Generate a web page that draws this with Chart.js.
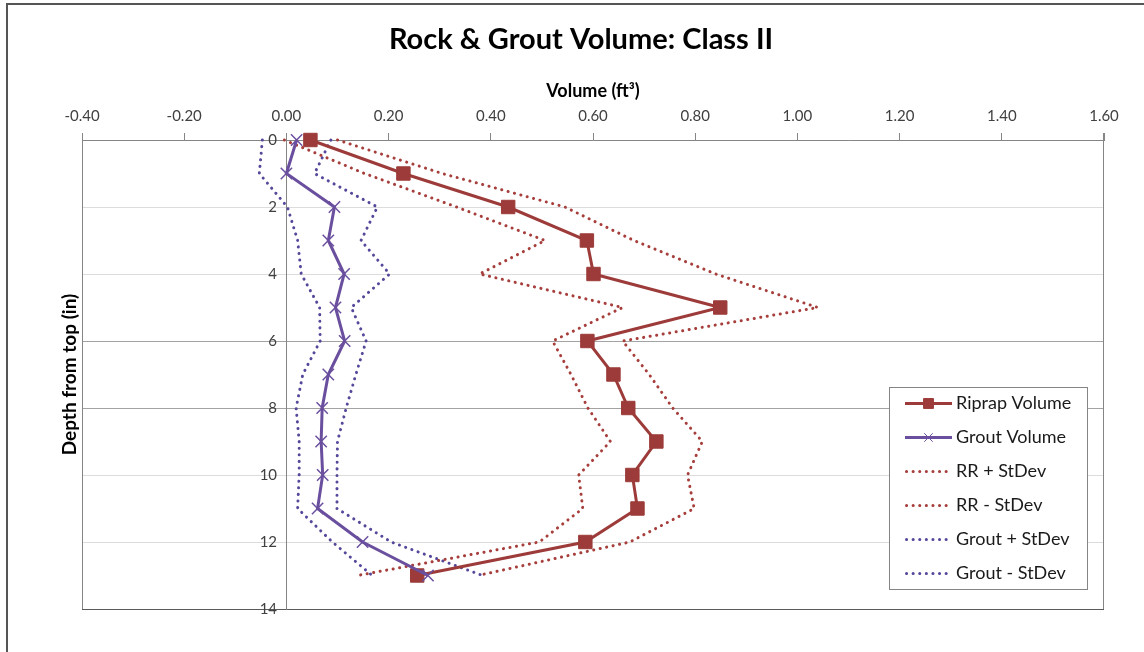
<!DOCTYPE html>
<html>
<head>
<meta charset="utf-8">
<script src="https://cdn.jsdelivr.net/npm/chart.js@4.4.1/dist/chart.umd.min.js"></script>
<style>
  html, body { margin: 0; padding: 0; background: #ffffff; }
  #wrap { width: 1144px; height: 652px; position: relative; }
</style>
</head>
<body>
<div id="wrap"><canvas id="chart" width="1144" height="652"></canvas></div>
<script>
// Depth below the top surface (in) for each measurement level
const depths = [0, 1, 2, 3, 4, 5, 6, 7, 8, 9, 10, 11, 12, 13];

// Mean volumes (ft³) per depth
const riprapVolume = [0.047, 0.229, 0.434, 0.588, 0.601, 0.849, 0.589, 0.640, 0.669, 0.724, 0.677, 0.687, 0.585, 0.256];
const groutVolume  = [0.020, 0.000, 0.094, 0.082, 0.113, 0.096, 0.114, 0.082, 0.070, 0.068, 0.071, 0.061, 0.149, 0.277];

// Mean ± one standard deviation
const rrPlusStd      = [0.100, 0.305, 0.545, 0.680, 0.840, 1.040, 0.658, 0.710, 0.756, 0.814, 0.785, 0.798, 0.672, 0.375];
const rrMinusStd     = [-0.004, 0.153, 0.333, 0.506, 0.378, 0.658, 0.521, 0.557, 0.590, 0.634, 0.572, 0.580, 0.495, 0.139];
const groutPlusStd   = [0.087, 0.055, 0.178, 0.146, 0.202, 0.127, 0.156, 0.136, 0.117, 0.100, 0.099, 0.099, 0.205, 0.384];
const groutMinusStd  = [-0.047, -0.053, 0.002, 0.022, 0.029, 0.065, 0.066, 0.032, 0.019, 0.025, 0.025, 0.022, 0.090, 0.168];

// Axis tick values
const volumeTicks = [-0.4, -0.2, 0, 0.2, 0.4, 0.6, 0.8, 1.0, 1.2, 1.4, 1.6];
const depthTicks  = [0, 2, 4, 6, 8, 10, 12, 14];

const FONT = 'Lato, "Liberation Sans", sans-serif';
const RIPRAP = '#9c3b39';
const GROUT = '#6a4f9e';
const RIPRAP_DOT = '#a63e3c';
const GROUT_DOT = '#56479a';
const FRAME = '#858585';

const toPoints = vals => vals.map((v, i) => ({ x: v, y: depths[i] }));

const dotted = (label, values, color, order) => ({
  label,
  data: toPoints(values),
  showLine: true,
  borderColor: color,
  backgroundColor: color,
  borderWidth: 3,
  borderDash: [0.1, 6.5],
  borderCapStyle: 'round',
  pointRadius: 0,
  pointHoverRadius: 0,
  clip: false,
  order
});

// Outer border of the figure and the grey frame round the plot area
const framePlugin = {
  id: 'frame',
  beforeDraw(chart) {
    const { ctx, width, height } = chart;
    ctx.save();
    ctx.fillStyle = '#ffffff';
    ctx.fillRect(0, 0, width, height);
    ctx.strokeStyle = '#555555';
    ctx.lineWidth = 2;
    ctx.strokeRect(7, 4, width + 40, height + 40);
    ctx.restore();
  },
  beforeDatasetsDraw(chart) {
    const { ctx, chartArea: a } = chart;
    ctx.save();
    ctx.strokeStyle = FRAME;
    ctx.lineWidth = 1;
    ctx.beginPath();
    ctx.moveTo(Math.round(a.left) + 0.5, a.top);
    ctx.lineTo(Math.round(a.left) + 0.5, a.bottom);
    ctx.moveTo(Math.round(a.right) - 0.5, a.top - 7);
    ctx.lineTo(Math.round(a.right) - 0.5, a.bottom);
    ctx.stroke();
    ctx.restore();
  }
};

// Boxed series key in the lower right of the plot
const keyPlugin = {
  id: 'seriesKey',
  afterDraw(chart) {
    const { ctx, chartArea: a } = chart;
    const datasets = chart.data.datasets;
    const boxW = 198, rowH = 34, boxH = 202;
    const right = a.right - 17, bottom = a.bottom - 20;
    const left = right - boxW, top = bottom - boxH;
    ctx.save();
    ctx.fillStyle = '#ffffff';
    ctx.fillRect(left, top, boxW, boxH);
    ctx.strokeStyle = FRAME;
    ctx.lineWidth = 1;
    ctx.strokeRect(Math.round(left) + 0.5, Math.round(top) + 0.5, boxW, boxH);
    datasets.forEach((ds, i) => {
      const y = Math.round(top + 16 + i * rowH) + 0.5;
      const x1 = left + 16, x2 = left + 63;
      ctx.save();
      ctx.strokeStyle = ds.borderColor;
      ctx.lineWidth = ds.borderWidth;
      ctx.lineCap = ds.borderCapStyle || 'butt';
      ctx.setLineDash(ds.borderDash || []);
      ctx.beginPath();
      ctx.moveTo(x1 + (ds.borderDash ? 1.5 : 0), y);
      ctx.lineTo(x2, y);
      ctx.stroke();
      ctx.restore();
      if (ds.pointRadius > 0) {
        ctx.save();
        ctx.fillStyle = ds.backgroundColor;
        ctx.strokeStyle = ds.borderColor;
        Chart.helpers.drawPoint(ctx, {
          pointStyle: ds.pointStyle,
          radius: ds.pointStyle === 'rect' ? 7 : 6,
          borderWidth: ds.pointStyle === 'rect' ? 1 : 1.2,
          rotation: 0
        }, (x1 + x2) / 2, y);
        ctx.restore();
      }
      ctx.fillStyle = '#1a1a1a';
      ctx.font = '18px ' + FONT;
      ctx.textBaseline = 'middle';
      ctx.textAlign = 'left';
      ctx.fillText(ds.label, left + 67, y);
    });
    ctx.restore();
  }
};

const noPad = s => { s.paddingLeft = 0; s.paddingRight = 0; s.paddingTop = 0; s.paddingBottom = 0; };

new Chart(document.getElementById('chart'), {
  type: 'scatter',
  data: {
    datasets: [
      {
        label: 'Riprap Volume',
        data: toPoints(riprapVolume),
        showLine: true,
        borderColor: RIPRAP,
        backgroundColor: RIPRAP,
        borderWidth: 3,
        pointStyle: 'rect',
        pointRadius: 9.5,
        pointBorderWidth: 1,
        clip: false,
        order: 1
      },
      {
        label: 'Grout Volume',
        data: toPoints(groutVolume),
        showLine: true,
        borderColor: GROUT,
        backgroundColor: GROUT,
        borderWidth: 3,
        pointStyle: 'crossRot',
        pointRadius: 8,
        pointBorderWidth: 1.5,
        clip: false,
        order: 0
      },
      dotted('RR + StDev', rrPlusStd, RIPRAP_DOT, 2),
      dotted('RR - StDev', rrMinusStd, RIPRAP_DOT, 3),
      dotted('Grout + StDev', groutPlusStd, GROUT_DOT, 4),
      dotted('Grout - StDev', groutMinusStd, GROUT_DOT, 5)
    ]
  },
  options: {
    responsive: false,
    animation: false,
    events: [],
    layout: { padding: { left: 58, right: 40, top: 8, bottom: 43 } },
    plugins: {
      legend: { display: false },
      tooltip: { enabled: false },
      title: {
        display: true,
        text: 'Rock & Grout Volume: Class II',
        color: '#000000',
        font: { family: FONT, size: 29, weight: 'bold' },
        padding: { top: 14.6, bottom: 7.6 }
      }
    },
    scales: {
      x: {
        type: 'linear',
        position: 'top',
        min: -0.4,
        max: 1.6,
        afterBuildTicks: s => { s.ticks = volumeTicks.map(v => ({ value: v })); },
        afterFit: s => { s.height = 75; noPad(s); },
        ticks: {
          color: '#404040',
          font: { family: FONT, size: 15 },
          padding: 8,
          maxRotation: 0,
          callback: v => Number(v).toFixed(2)
        },
        grid: { drawOnChartArea: false, drawTicks: true, tickLength: 7, color: FRAME, tickColor: FRAME },
        border: { color: FRAME, width: 1 },
        title: {
          display: true,
          text: 'Volume (ft³)',
          color: '#000000',
          font: { family: FONT, size: 18, weight: 'bold' },
          padding: { top: 15.2, bottom: 0 }
        }
      },
      y: {
        type: 'linear',
        position: { x: 0 },
        reverse: true,
        min: 0,
        max: 14,
        afterBuildTicks: s => { s.ticks = depthTicks.map(v => ({ value: v })); },
        afterFit: noPad,
        ticks: {
          color: '#404040',
          font: { family: FONT, size: 15 },
          callback: v => String(v) + '\u2002\u2009'
        },
        grid: {
          drawTicks: false,
          color: c => {
            const v = c.tick && c.tick.value;
            if (v === 14) return '#5a5a5a';
            if (v === 6 || v === 8) return '#a3a3a3';
            return '#dcdcdc';
          }
        },
        border: { color: FRAME, width: 1 }
      },
      depthTitle: {
        type: 'linear',
        position: 'left',
        axis: 'y',
        display: true,
        afterFit: s => { s.width = 24; noPad(s); },
        ticks: { display: false },
        grid: { display: false, drawTicks: false },
        border: { display: false },
        title: {
          display: true,
          text: 'Depth from top (in)',
          color: '#000000',
          font: { family: FONT, size: 19, weight: 'bold' },
          padding: 0
        }
      }
    }
  },
  plugins: [framePlugin, keyPlugin]
});
</script>
</body>
</html>
